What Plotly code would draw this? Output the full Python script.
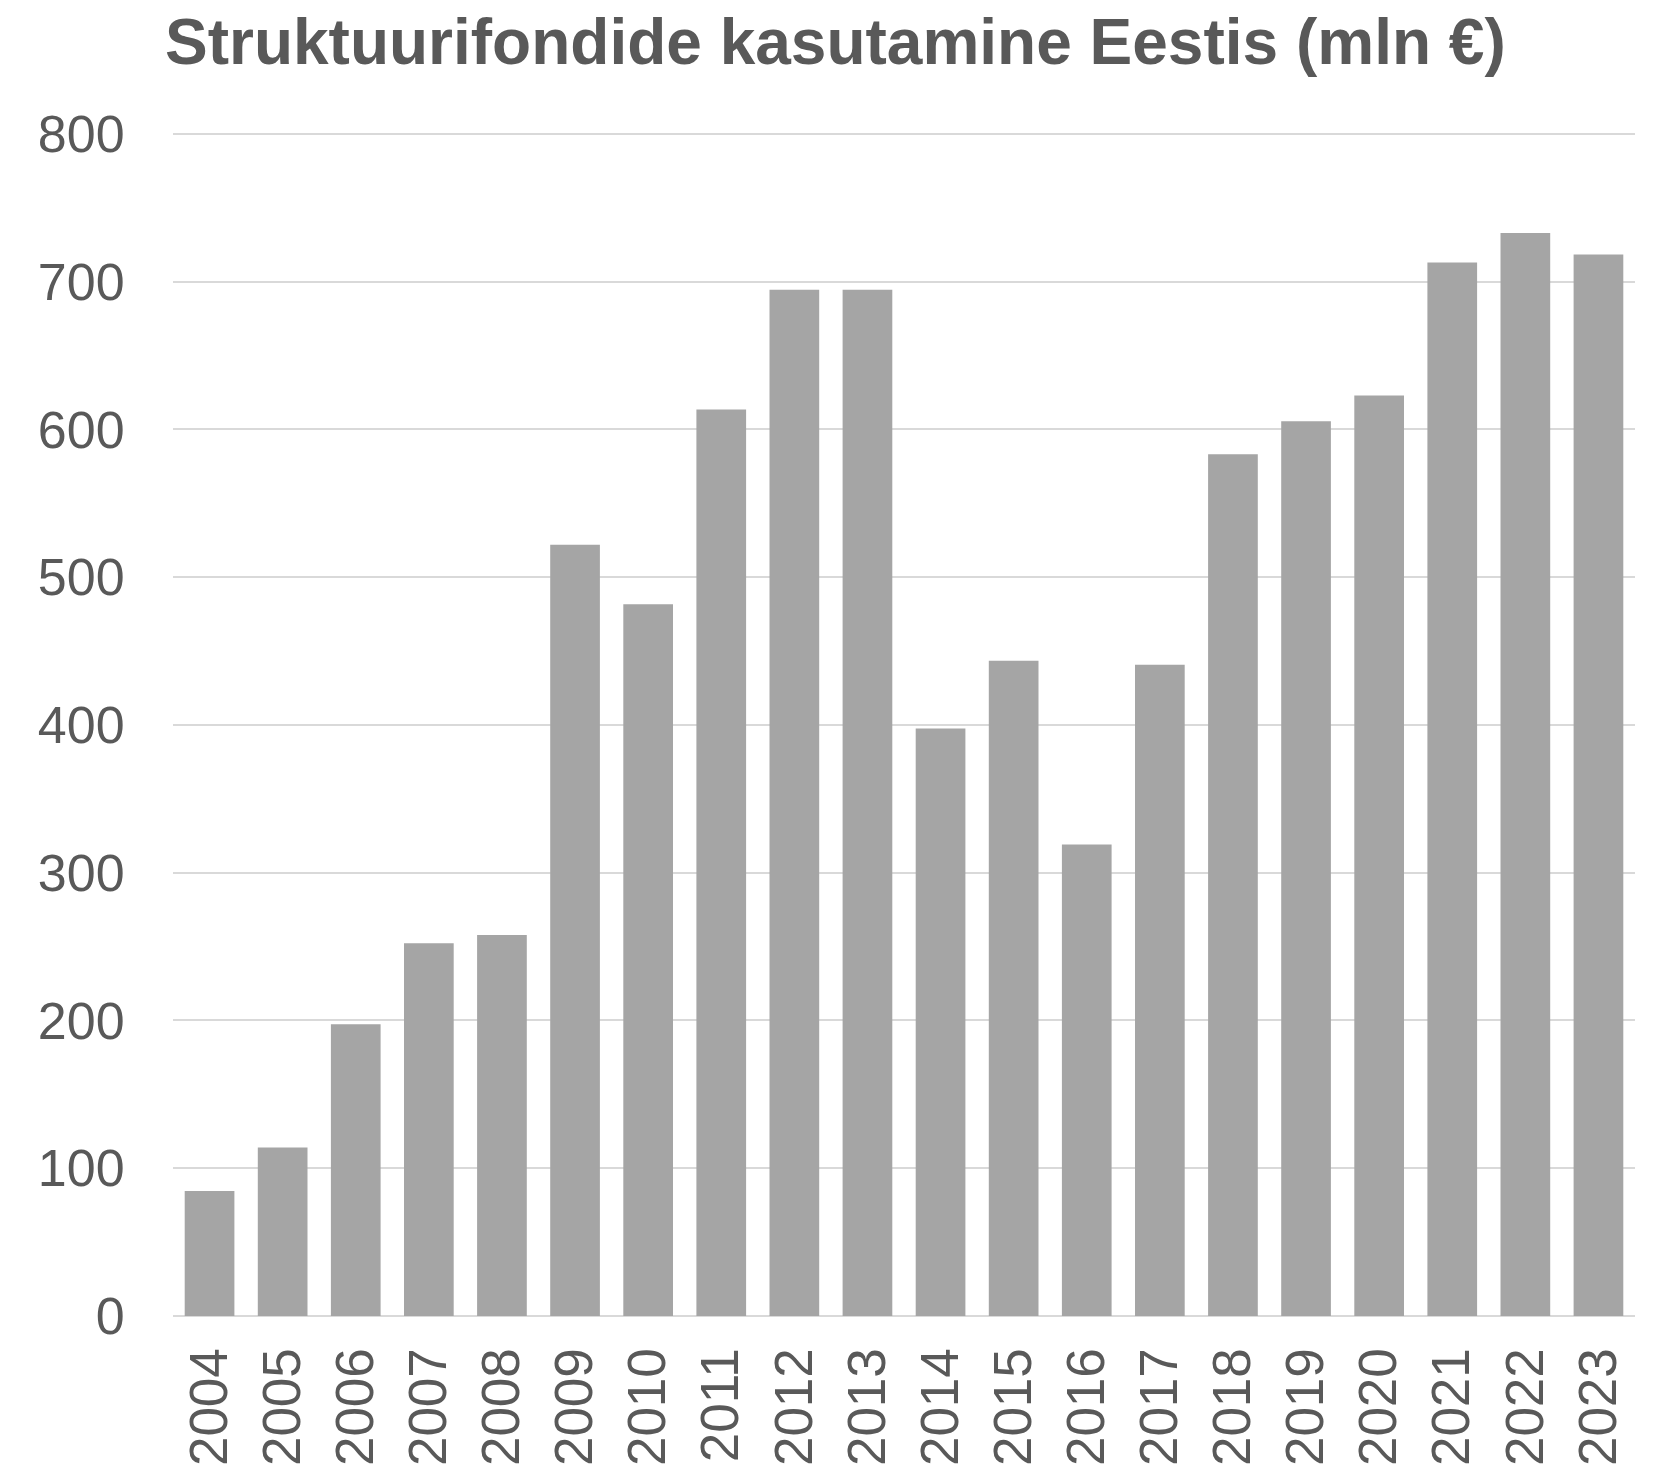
import plotly.graph_objects as go

years = ["2004", "2005", "2006", "2007", "2008", "2009", "2010", "2011", "2012", "2013",
         "2014", "2015", "2016", "2017", "2018", "2019", "2020", "2021", "2022", "2023"]
values = [84.6, 114.1, 197.4, 252.2, 257.8, 521.9, 481.7, 613.5, 694.6, 694.6,
          397.6, 443.4, 319.1, 440.7, 583.2, 605.6, 623.0, 713.0, 733.0, 718.5]
y_ticks = [0, 100, 200, 300, 400, 500, 600, 700, 800]
title_text = "Struktuurifondide kasutamine Eestis (mln €)"

TEXT = "#595959"
FONT = "Liberation Sans, Arial, sans-serif"

# page body has an 8px default margin, so the figure is sized to fit the window
W, H = 1652, 1459

fig = go.Figure(go.Bar(
    x=years, y=values,
    marker=dict(color="#A5A5A5", line=dict(width=0)),
    hoverinfo="x+y",
))

fig.update_layout(
    width=W, height=H, autosize=False,
    margin=dict(l=165, r=25, t=123, b=151, pad=0),
    paper_bgcolor="white", plot_bgcolor="white",
    bargap=0.32,
    showlegend=False,
    font=dict(family=FONT, color=TEXT),
    title=dict(
        text="<b>" + title_text + "</b>",
        font=dict(family=FONT, size=64, color=TEXT),
        x=157 / W, xanchor="left", xref="container",
        y=1 - 33.5 / H, yanchor="middle", yref="container",
    ),
    xaxis=dict(
        type="category",
        automargin=False,
        tickangle=-90,
        tickfont=dict(family=FONT, size=53, color=TEXT),
        showgrid=False,
        showline=False,
        zeroline=False,
        ticks="outside", ticklen=10, tickcolor="rgba(0,0,0,0)",
    ),
    yaxis=dict(
        automargin=False,
        range=[0, 802],
        tickvals=y_ticks,
        ticktext=[str(v) for v in y_ticks],
        tickfont=dict(family=FONT, size=52, color=TEXT),
        showgrid=True, gridcolor="#D9D9D9", gridwidth=1.5,
        zeroline=True, zerolinecolor="#D9D9D9", zerolinewidth=1.5,
        showline=False,
        ticks="outside", ticklen=37, tickcolor="rgba(0,0,0,0)",
    ),
)

fig.write_html("out.html")
